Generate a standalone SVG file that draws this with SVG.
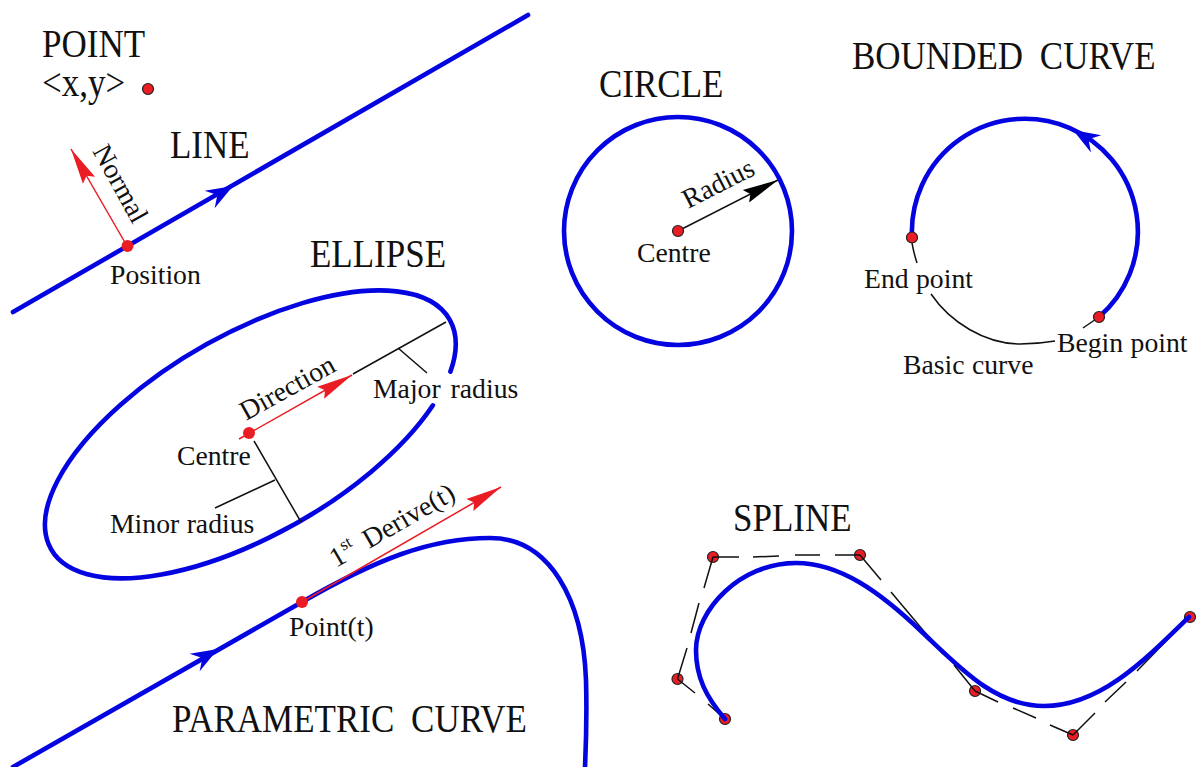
<svg xmlns="http://www.w3.org/2000/svg" width="1197" height="767" viewBox="0 0 1197 767">
<style>
text{font-family:"Liberation Serif","Times New Roman",serif;fill:#111}
.t{font-size:35px;word-spacing:8px}
.l{font-size:27.7px;word-spacing:3px}
.n{word-spacing:0.5px}
.b{fill:none;stroke:#0404e0;stroke-width:4.6;stroke-linecap:round}
.k{fill:none;stroke:#111;stroke-width:1.5}
.r{fill:none;stroke:#ea1c24;stroke-width:1.5}
.d{fill:#ea1c24}
.o{fill:#ea1c24;stroke:#222;stroke-width:1.2}
.bh{fill:#0404e0}
</style>
<defs>
<path id="bh" d="M0,0 L-27,-10 L-18,0 L-27,10z"/>
<marker id="ra" markerUnits="userSpaceOnUse" markerWidth="37" markerHeight="16" viewBox="0 0 37 16" refX="36" refY="8" orient="auto"><path d="M0,1 L36,8 L0,15 L5,8z" fill="#ea1c24"/></marker>
<marker id="ka" markerUnits="userSpaceOnUse" markerWidth="37" markerHeight="16" viewBox="0 0 37 16" refX="36" refY="8" orient="auto"><path d="M0,1 L36,8 L0,15 L5,8z" fill="#000"/></marker>
</defs>
<rect width="1197" height="767" fill="#fff"/>
<g id="spline-points">
<circle class="o" cx="725" cy="719" r="5.500"/><circle class="o" cx="677.500" cy="679" r="5.500"/><circle class="o" cx="713" cy="557" r="5.500"/><circle class="o" cx="860" cy="555" r="5.500"/><circle class="o" cx="975" cy="691" r="5.500"/><circle class="o" cx="1073" cy="735" r="5.500"/><circle class="o" cx="1190" cy="617" r="5.500"/>
</g>
<g id="connectors">
<path class="b" d="M13,312 L528,15"/>
<use href="#bh" class="bh" transform="translate(233,186) rotate(-30)"/>
<path class="r" marker-end="url(#ra)" d="M127,246 L71,149"/>
<path class="b" d="M432.900,405.300 A230,100 -30 1 1 450.400,371.600"/>
<path class="k" d="M353,374 L446,322 M398,348 L427,373 M254,441 L301,522 M275,480 L215,508"/>
<path class="r" marker-end="url(#ra)" d="M239,439 L352,375"/>
<path class="b" d="M13,767 L302,602 C375,560 430,538 490,538 C550,538 583,600 586,680 C587,715 586,745 585,767"/>
<use href="#bh" class="bh" transform="translate(218,649) rotate(-30)"/>
<path class="r" marker-end="url(#ra)" d="M302,602 L501,487"/>
<circle class="b" cx="678" cy="231" r="114"/>
<path class="k" marker-end="url(#ka)" d="M678,231 L778,180"/>
<path class="b" d="M1099,317 A113,113 0 1 0 912,237"/>
<use href="#bh" class="bh" transform="translate(1073,130) rotate(211)"/>
<path class="k" d="M912,243 Q914,254 917,263 M931,294 C950,322 985,344 1020,344 Q1038,344 1055,341 M1099,317 L1083,328"/>
<path class="k" d="M725,719 L708,704 M695,693 L677.500,679 M677.500,679 L687,648 M691,633 L699,603 M704,588 L713,557 M713,557 L739,557 M753,557 L779,556 M795,555 L820,555 M835,555 L860,555 M860,555 L881,580 M891,592 L943,654 M954,665 L975,691 M975,691 L998,702 M1013,708 L1036,718 M1050,725 L1073,735 M1073,735 L1095,713 M1105,702 L1126,682 M1137,671 L1170,637 M1178,629 L1190,617"/>
<path class="b" d="M725,719 C706,697 696,677 696,650 C696,610 740,563 796,563 C840,563 880,592 922,632 C960,668 995,706 1044,706 C1100,706 1145,660 1189,617"/>
</g>
<g id="node-point">
<text class="t" transform="translate(42,57) scale(1,1.150)">POINT</text>
<text class="t" transform="translate(42,96) scale(1,1.150)">&lt;x,y&gt;</text>
<circle class="o" cx="148" cy="89" r="5.500"/>
</g>
<g id="node-line">
<text class="t" transform="translate(170,158) scale(1,1.150)">LINE</text>
<circle class="d" cx="127.500" cy="246" r="6"/>
<text class="l" transform="translate(92,151) rotate(61)">Normal</text>
<text class="l" x="110" y="284">Position</text>
</g>
<g id="node-ellipse">
<text class="t" transform="translate(310,267) scale(1,1.150)">ELLIPSE</text>
<circle class="d" cx="249" cy="433" r="6"/>
<text class="l" transform="translate(246,421) rotate(-29)">Direction</text>
<text class="l" x="373" y="398">Major radius</text>
<text class="l" x="177" y="465">Centre</text>
<text class="l n" x="110" y="533">Minor radius</text>
</g>
<g id="node-parametric">
<circle class="d" cx="302" cy="602" r="6"/>
<text class="l" transform="translate(336,568) rotate(-30)">1<tspan font-size="17" dx="1" dy="-11">st</tspan><tspan dx="12" dy="11">Derive(t)</tspan></text>
<text class="l" x="289" y="636">Point(t)</text>
<text class="t" transform="translate(172,732) scale(1,1.150)">PARAMETRIC CURVE</text>
</g>
<g id="node-circle">
<text class="t" transform="translate(599,97) scale(1,1.150)">CIRCLE</text>
<circle class="o" cx="678" cy="231" r="5.500"/>
<text class="l" transform="translate(688,209) rotate(-27)">Radius</text>
<text class="l" x="637" y="262">Centre</text>
</g>
<g id="node-bounded">
<text class="t" transform="translate(852,69) scale(1,1.150)">BOUNDED CURVE</text>
<circle class="o" cx="912" cy="237.500" r="5.500"/>
<circle class="o" cx="1099" cy="317" r="5.500"/>
<text class="l n" x="864" y="288">End point</text>
<text class="l n" x="1057" y="352">Begin point</text>
<text class="l n" x="903" y="374">Basic curve</text>
</g>
<g id="node-spline">
<text class="t" transform="translate(733,531) scale(1,1.150)">SPLINE</text>
</g>
</svg>
